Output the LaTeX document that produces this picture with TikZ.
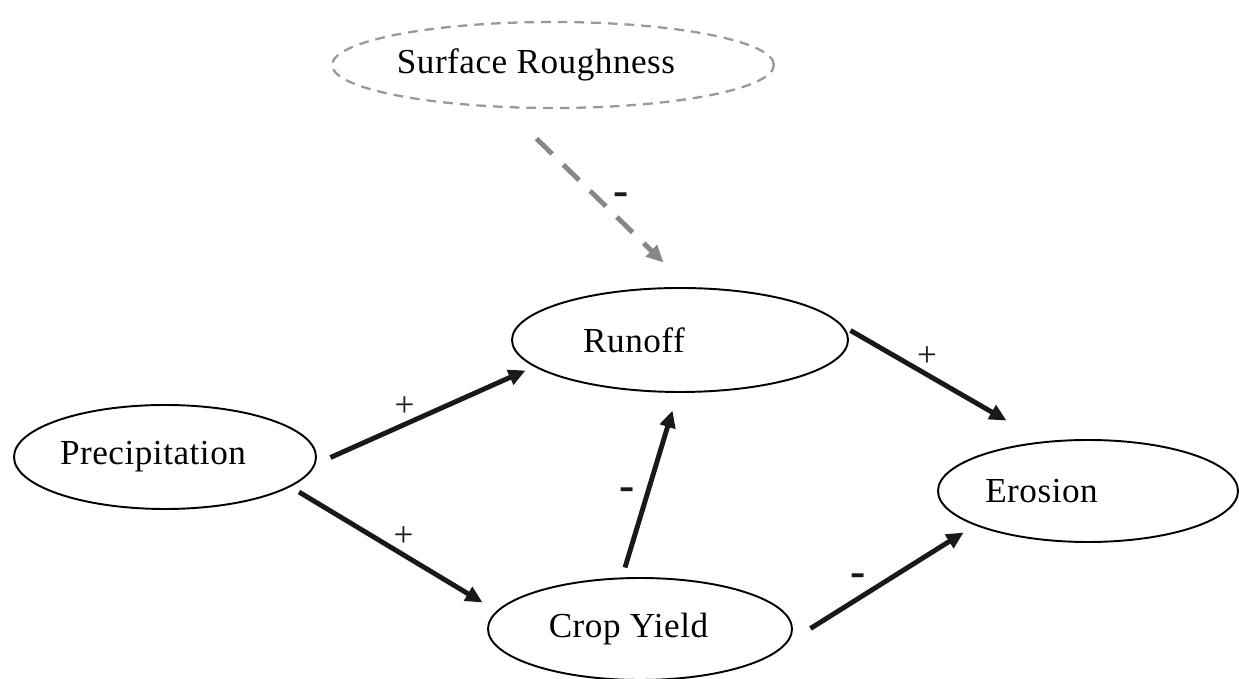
\documentclass[tikz,border=0pt]{standalone}
\usepackage{fontspec}
\setmainfont{Liberation Serif}[LetterSpace=1.5]
\setsansfont{Liberation Sans}
\usepackage{tikz}
\usetikzlibrary{shapes,arrows.meta,calc}

\begin{document}
\begin{tikzpicture}[
    factor/.style={
      ellipse,
      draw,
      line width=1.1pt,
      inner sep=0pt,
      minimum width=6.04cm,
      minimum height=2.08cm,
      font=\fontsize{20}{24}\selectfont
    },
    latent/.style={factor, draw=black!40, dash pattern=on 5.5pt off 4pt, line width=1.3pt},
    line/.style={draw, -{Triangle[length=0.34cm, width=0.31cm]}, line width=2.8pt, black!90},
    dline/.style={line, black!47, dash pattern=on 12.5pt off 8.8pt},
    plus/.style={font=\fontsize{20}{24}\selectfont, inner sep=0pt, text=black!90},
    minus/.style={font=\bfseries\fontsize{26}{30}\selectfont, inner sep=0pt, text=black!90},
]
    \useasboundingbox (0,0) rectangle (24.78,13.58);

    \node [factor] (pre) at (3.3,4.44) {Precipitation\hspace*{0.48cm}};
    \node [factor, minimum width=6.72cm] (run) at (13.6,6.78) {Runoff\hspace*{1.84cm}};
    \node [factor, minimum width=6.08cm, minimum height=2.04cm] (crop) at (12.8,1.0) {Crop Yield\hspace*{0.46cm}};
    \node [factor, minimum width=6cm, minimum height=2.04cm] (ero) at (21.76,3.76) {Erosion\hspace*{1.86cm}};
    \node [latent, minimum width=8.8cm, minimum height=1.72cm] (rough) at (11.06,12.28) {Surface Roughness\hspace*{0.68cm}};

    % signed links
    \path [line] ([shift={(0.27,-0.01)}]pre.east) -- node [plus, pos=0.38, yshift=0.36cm] {+} ([shift={(0.29,-0.61)}]run.west);
    \path [line] ([shift={(-0.36,-0.70)}]pre.east) -- node [plus, pos=0.57, yshift=0.36cm] {+} ([shift={(-0.09,0.53)}]crop.west);
    \path [line] ([shift={(-0.3,0.19)}]crop.north) -- node [minus, pos=0.47, xshift=-0.41cm] {-} ([shift={(-0.15,-0.35)}]run.south);
    \path [line] ([shift={(0.03,0.19)}]run.east) -- node [plus, pos=0.49, yshift=0.37cm] {+} ([shift={(-1.63,0.37)}]ero.north);
    \path [line] ([shift={(0.35,0.01)}]crop.east) -- node [minus, pos=0.31, yshift=0.38cm] {-} ([shift={(0.53,-0.83)}]ero.west);
    \path [dline] ([shift={(-0.33,-0.59)}]rough.south) -- node [minus, pos=0.67, yshift=0.45cm] {-} ([shift={(-0.33,0.49)}]run.north);

\end{tikzpicture}
\end{document}
